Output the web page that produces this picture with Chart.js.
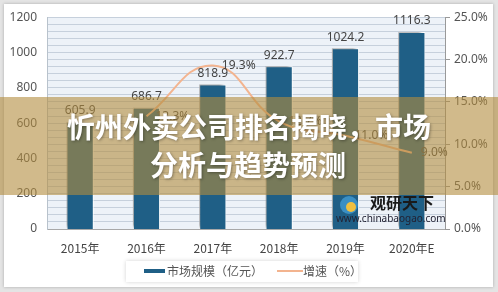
<!DOCTYPE html>
<html>
<head>
<meta charset="utf-8">
<script src="https://cdn.jsdelivr.net/npm/chart.js@4/dist/chart.umd.min.js"></script>
<style>
  html, body { margin: 0; padding: 0; background: #fff; }
  canvas { display: block; }
</style>
</head>
<body>
<canvas id="chart" width="498" height="292"></canvas>
<script>
const years = ['2015年', '2016年', '2017年', '2018年', '2019年', '2020年E'];
const marketSize = [605.9, 686.7, 818.9, 922.7, 1024.2, 1116.3];
const growthRate = [null, 13.3, 19.3, 12.7, 11.0, 9.0];
const sizeTicks = [0, 200, 400, 600, 800, 1000, 1200];
const rateTicks = [0, 5, 10, 15, 20, 25];

const titleLines = ['忻州外卖公司排名揭晓，市场', '分析与趋势预测'];
const FONT = '"Noto Sans", "Noto Sans CJK SC", sans-serif';
const CJK = '"Noto Sans CJK SC", sans-serif';

// frame + striped plot background
const backdrop = {
  id: 'backdrop',
  beforeDraw(chart) {
    const c = chart.ctx, a = chart.chartArea;
    c.save();
    c.fillStyle = '#e4e4e4';
    c.fillRect(0, 0, chart.width, chart.height);
    c.shadowColor = 'rgba(0,0,0,0.25)';
    c.shadowBlur = 3;
    c.fillStyle = '#fff';
    c.fillRect(4, 4, chart.width - 9, chart.height - 9);
    c.shadowColor = 'transparent';
    c.fillStyle = '#edf2f8';
    c.fillRect(a.left, a.top, a.right - a.left, a.bottom - a.top);
    c.restore();
  }
};

// shadow behind the bars
const barShadow = {
  id: 'barShadow',
  beforeDatasetDraw(chart, args) {
    if (args.index !== 0) return;
    const c = chart.ctx;
    c.save();
    c.shadowColor = 'rgba(0,0,0,0.35)';
    c.shadowBlur = 3;
    c.shadowOffsetX = -3;
    c.shadowOffsetY = -2;
  },
  afterDatasetDraw(chart, args) {
    if (args.index !== 0) return;
    chart.ctx.restore();
  }
};

// value labels, legend, watermark, title band
const extras = {
  id: 'extras',
  afterDatasetsDraw(chart) {
    const c = chart.ctx;
    c.save();
    c.font = '12px ' + FONT;
    c.fillStyle = '#444';
    c.textAlign = 'center';
    c.textBaseline = 'bottom';
    chart.getDatasetMeta(0).data.forEach((bar, i) => {
      c.fillText(marketSize[i].toFixed(1), bar.x, bar.y - 5);
    });
    c.textAlign = 'left';
    c.textBaseline = 'middle';
    chart.getDatasetMeta(1).data.forEach((pt, i) => {
      if (growthRate[i] == null) return;
      c.fillText(growthRate[i].toFixed(1) + '%', pt.x + 9, pt.y);
    });
    c.restore();
  },
  afterDraw(chart) {
    const c = chart.ctx;
    c.save();
    // legend
    c.shadowColor = 'rgba(0,0,0,0.18)';
    c.shadowBlur = 4;
    c.fillStyle = '#fff';
    c.fillRect(126, 261, 232, 21);
    c.shadowColor = 'transparent';
    c.fillStyle = '#1f5f86';
    c.fillRect(144, 269, 21, 4);
    c.strokeStyle = '#f3b48f';
    c.lineWidth = 2;
    c.beginPath(); c.moveTo(277, 271); c.lineTo(303, 271); c.stroke();
    c.font = '12px ' + CJK;
    c.fillStyle = '#555';
    c.textBaseline = 'middle';
    c.textAlign = 'left';
    c.fillText(chart.data.datasets[0].label, 167, 271);
    c.fillText(chart.data.datasets[1].label, 303, 271);

    // watermark
    c.fillStyle = '#3a8fc4';
    c.beginPath(); c.arc(349, 205, 9, 0, Math.PI * 2); c.fill();
    c.fillStyle = '#f0c040';
    c.beginPath(); c.arc(351, 207, 5, 0, Math.PI * 2); c.fill();
    c.fillStyle = '#1a1a1a';
    c.font = 'bold 16px ' + CJK;
    c.fillText('观研天下', 370, 203);
    c.font = '10px ' + FONT;
    c.fillStyle = '#223';
    c.fillText('www.chinabaogao.com', 336, 219);

    // title band
    c.fillStyle = 'rgba(178,140,62,0.6)';
    c.fillRect(0, 97, chart.width, 98);
    c.font = 'bold 28px ' + CJK;
    c.textAlign = 'center';
    c.fillStyle = '#fff';
    c.shadowColor = 'rgba(0,0,0,0.35)';
    c.shadowBlur = 3;
    c.shadowOffsetX = 1;
    c.shadowOffsetY = 1;
    c.fillText(titleLines[0], 249, 127);
    c.fillText(titleLines[1], 248, 165);
    c.restore();
  }
};

new Chart(document.getElementById('chart').getContext('2d'), {
  data: {
    labels: years,
    datasets: [
      {
        type: 'bar',
        label: '市场规模（亿元）',
        data: marketSize,
        yAxisID: 'y',
        backgroundColor: '#1f5f86',
        borderColor: '#ffffff',
        borderWidth: 1,
        barPercentage: 0.41,
        categoryPercentage: 1,
        order: 2
      },
      {
        type: 'line',
        label: '增速（%）',
        data: growthRate,
        yAxisID: 'y1',
        borderColor: '#f3b48f',
        borderWidth: 2,
        pointRadius: 0,
        tension: 0.45,
        order: 1
      }
    ]
  },
  options: {
    responsive: false,
    animation: false,
    layout: { padding: { left: 5, right: 5, top: 10, bottom: 33 } },
    plugins: {
      legend: { display: false },
      tooltip: { enabled: false }
    },
    scales: {
      x: {
        grid: { display: false },
        border: { color: '#a8a8a8' },
        ticks: { color: '#444', font: { size: 12, family: CJK }, padding: 4 },
        afterFit(s) { s.height = 30; }
      },
      yg: {
        position: 'left',
        min: 0, max: 30,
        ticks: { display: false, stepSize: 1 },
        grid: { color: '#c6d0dc', drawTicks: false },
        border: { display: false },
        afterFit(s) { s.width = 0; }
      },
      y: {
        position: 'left',
        min: 0, max: 1200,
        afterBuildTicks(s) { s.ticks = sizeTicks.map(v => ({ value: v })); },
        ticks: { color: '#555', font: { size: 12, family: FONT }, padding: 10,
          callback: v => String(v) },
        grid: { display: false, drawTicks: false },
        border: { color: '#b8c2cc' },
        afterFit(s) { s.width = 42; }
      },
      y1: {
        position: 'right',
        min: 0, max: 25,
        afterBuildTicks(s) { s.ticks = rateTicks.map(v => ({ value: v })); },
        ticks: { color: '#555', font: { size: 12, family: FONT }, padding: 4,
          callback: v => v.toFixed(1) + '%' },
        grid: { drawOnChartArea: false, tickLength: 5, color: '#999' },
        border: { color: '#999' },
        afterFit(s) { s.width = 48; }
      }
    }
  },
  plugins: [backdrop, barShadow, extras]
});
</script>
</body>
</html>
